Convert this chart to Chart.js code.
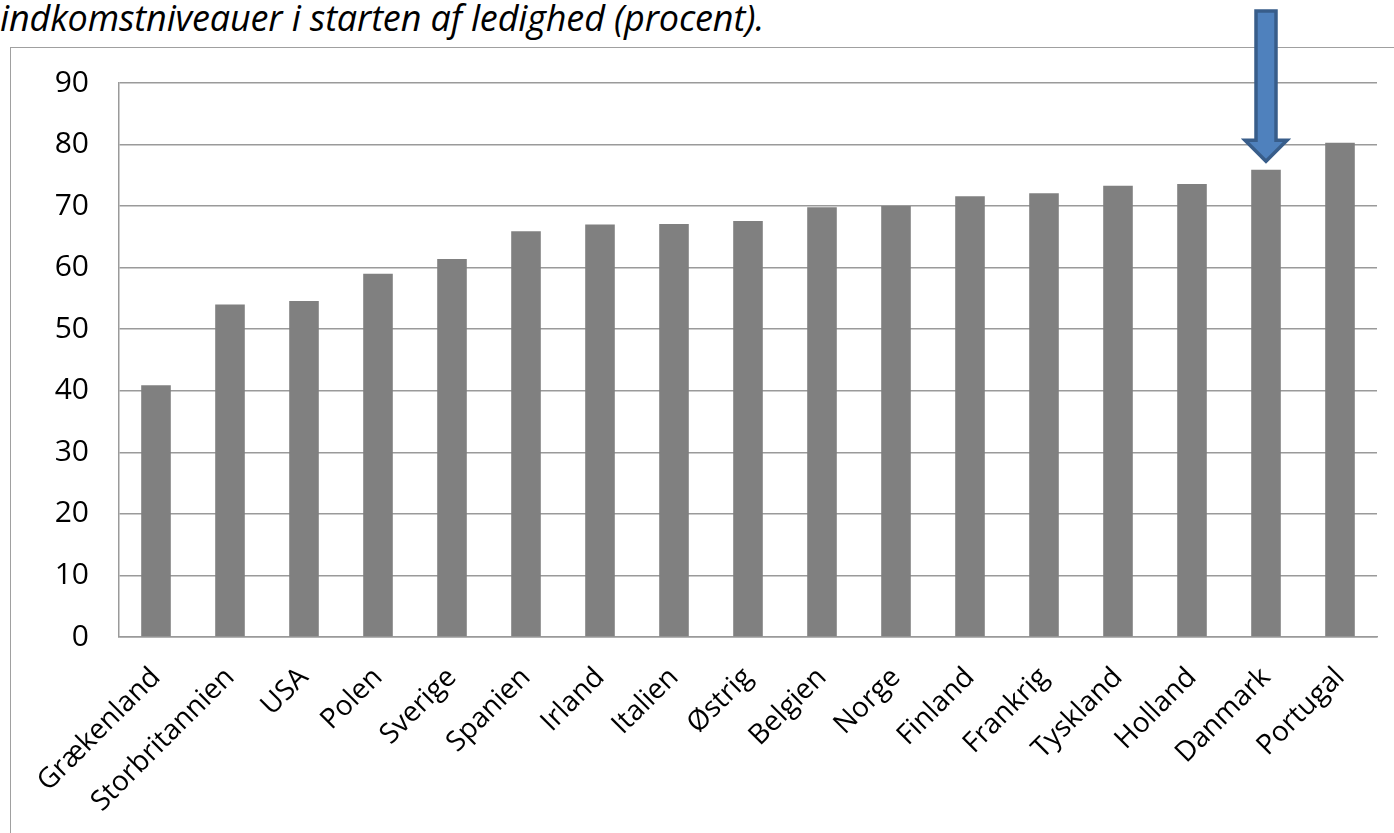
<!DOCTYPE html>
<html>
<head>
<meta charset="utf-8">
<script src="https://cdn.jsdelivr.net/npm/chart.js@4.4.1/dist/chart.umd.min.js"></script>
<style>
  html, body { margin: 0; padding: 0; background: #fff; overflow: hidden; }
  #wrap { position: relative; width: 1394px; height: 833px; }
  #frame {
    position: absolute; left: 10px; top: 47px; width: 1500px; height: 900px;
    border: 1px solid #a0a0a0; box-sizing: border-box;
  }
  #caption {
    position: absolute; left: 0; top: -7px; white-space: nowrap;
    font-family: "Open Sans", sans-serif; font-style: italic; font-size: 36px;
    color: #000; letter-spacing: -0.15px;
  }
  #chart { position: absolute; left: 0; top: 0; }
</style>
</head>
<body>
<div id="wrap">
  <div id="frame"></div>
  <div id="caption">indkomstniveauer i starten af ledighed (procent).</div>
  <canvas id="chart" width="1394" height="833"></canvas>
</div>
<script>
// Countries, sorted as in the figure
const countries = [
  'Grækenland', 'Storbritannien', 'USA', 'Polen', 'Sverige', 'Spanien',
  'Irland', 'Italien', 'Østrig', 'Belgien', 'Norge', 'Finland',
  'Frankrig', 'Tyskland', 'Holland', 'Danmark', 'Portugal'
]

// Replacement rate (procent)
const values = [
  40.9, 54.0, 54.6, 59.0, 61.4, 65.9,
  67.0, 67.1, 67.6, 69.8, 70.0, 71.6,
  72.1, 73.3, 73.6, 75.9, 80.3
]

const yTicks = [0, 10, 20, 30, 40, 50, 60, 70, 80, 90]

// which bar the arrow points to, and where its tip sits (value units)
const highlight = 'Danmark'
const arrowTip = 77.3

const gridGray = '#9a9a9a'

// Blue down arrow above the highlighted bar
const arrowPlugin = {
  id: 'arrow',
  afterDatasetsDraw(chart) {
    const ctx = chart.ctx
    const x = chart.scales.x.getPixelForValue(countries.indexOf(highlight))
    const tip = chart.scales.y.getPixelForValue(arrowTip)
    const top = 11
    const shaft = 10
    const head = 21
    const headH = 21
    ctx.save()
    ctx.beginPath()
    ctx.moveTo(x - shaft, top)
    ctx.lineTo(x + shaft, top)
    ctx.lineTo(x + shaft, tip - headH)
    ctx.lineTo(x + head, tip - headH)
    ctx.lineTo(x, tip)
    ctx.lineTo(x - head, tip - headH)
    ctx.lineTo(x - shaft, tip - headH)
    ctx.closePath()
    ctx.fillStyle = '#4f81bd'
    ctx.fill()
    ctx.lineWidth = 3.5
    ctx.lineJoin = 'miter'
    ctx.strokeStyle = '#385d8a'
    ctx.stroke()
    ctx.restore()
  }
}

const ctx = document.getElementById('chart').getContext('2d')
new Chart(ctx, {
  type: 'bar',
  data: {
    labels: countries,
    datasets: [{
      data: values,
      backgroundColor: '#808080',
      borderWidth: 0,
      barPercentage: 0.4,
      categoryPercentage: 1.0
    }]
  },
  options: {
    responsive: false,
    animation: false,
    layout: { padding: { top: 83, right: 17, left: 0, bottom: 0 } },
    plugins: {
      legend: { display: false },
      tooltip: { enabled: false }
    },
    scales: {
      x: {
        grid: { display: false, drawTicks: false },
        border: { display: true, color: gridGray, width: 1.5 },
        ticks: {
          color: '#000',
          font: { family: 'Open Sans', size: 28 },
          maxRotation: 45,
          minRotation: 45,
          padding: 24,
          autoSkip: false
        },
        afterFit(scale) { scale.height = 833 - 637 }
      },
      y: {
        min: 0,
        max: 90,
        afterBuildTicks(scale) { scale.ticks = yTicks.map(v => ({ value: v })) },
        grid: { color: gridGray, lineWidth: 1.5, drawTicks: false },
        border: { display: true, color: gridGray, width: 1.5 },
        ticks: {
          color: '#000',
          font: { family: 'Open Sans', size: 30 },
          padding: 30
        },
        afterFit(scale) { scale.width = 119 }
      }
    }
  },
  plugins: [arrowPlugin]
})
</script>
</body>
</html>
